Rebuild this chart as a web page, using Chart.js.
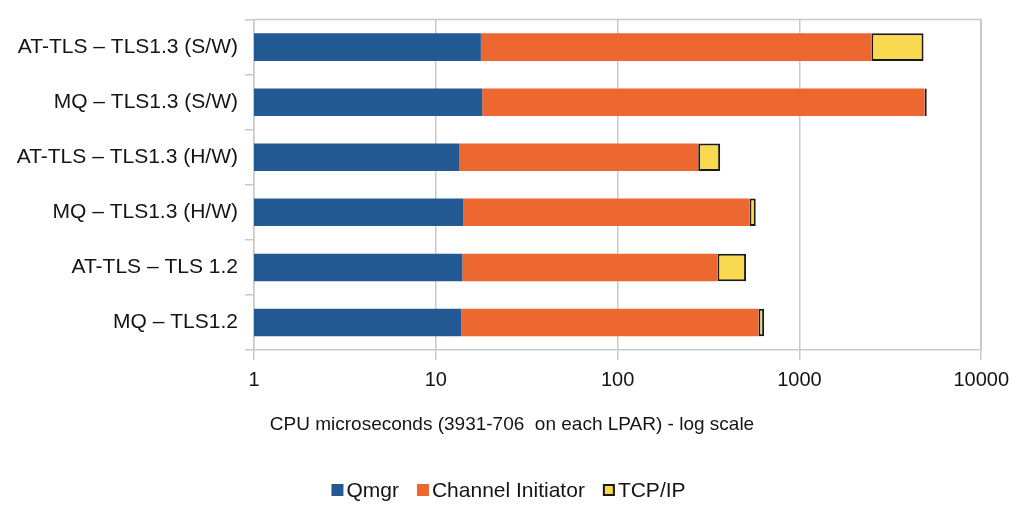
<!DOCTYPE html>
<html>
<head>
<meta charset="utf-8">
<script src="https://cdn.jsdelivr.net/npm/chart.js@4.4.1/dist/chart.umd.min.js"></script>
<style>
  html, body { margin: 0; padding: 0; background: #ffffff; }
  #wrap { width: 1017px; height: 506px; position: relative; }
</style>
</head>
<body>
<div id="wrap"><canvas id="c" width="1017" height="506"></canvas></div>
<script>
const categories = [
  'AT-TLS – TLS1.3 (S/W)',
  'MQ – TLS1.3 (S/W)',
  'AT-TLS – TLS1.3 (H/W)',
  'MQ – TLS1.3 (H/W)',
  'AT-TLS – TLS 1.2',
  'MQ – TLS1.2'
];
const seriesNames = ['Qmgr', 'Channel Initiator', 'TCP/IP'];
const qmgr = [17.7, 18, 13.5, 14.2, 14, 13.8];
const channelInitiator = [2470, 4860, 264, 517, 340, 581];
const tcpip = [2330, 140, 89, 44, 155, 45];
const xTickValues = [1, 10, 100, 1000, 10000];
const xTickLabels = ['1', '10', '100', '1000', '10000'];
const xTitle = 'CPU microseconds (3931-706  on each LPAR) - log scale';

const FONT = "'Liberation Sans', Arial, Helvetica, sans-serif";
const GRID = '#c9c9c9';
const TEXT = '#141414';
const colors = ['#245a93', '#ed6731', '#f8d94f'];

const frame = {
  id: 'frame',
  beforeDatasetsDraw(chart) {
    const {ctx, chartArea: a} = chart;
    ctx.save();
    ctx.strokeStyle = GRID;
    ctx.lineWidth = 1.5;
    ctx.beginPath();
    ctx.moveTo(a.left, a.top);
    ctx.lineTo(a.right, a.top);
    ctx.lineTo(a.right, a.bottom);
    ctx.stroke();
    ctx.restore();
  }
};

const extras = {
  id: 'extras',
  afterDraw(chart) {
    const {ctx} = chart;
    ctx.save();
    // axis title
    ctx.fillStyle = TEXT;
    ctx.font = '19px ' + FONT;
    ctx.textAlign = 'center';
    ctx.textBaseline = 'middle';
    ctx.fillText(xTitle, 512, 425);
    // legend
    ctx.font = '21px ' + FONT;
    const box = 12, gapText = 3, gapItem = 18;
    const ds = chart.data.datasets;
    const widths = ds.map(d => box + gapText + ctx.measureText(d.label).width);
    const total = widths.reduce((s, w) => s + w, 0) + gapItem * (ds.length - 1);
    let x = chart.width / 2 - total / 2;
    const y = 490;
    ctx.textAlign = 'left';
    ds.forEach((d, i) => {
      ctx.fillStyle = d.backgroundColor;
      ctx.fillRect(x, y - box / 2, box, box);
      if (d.borderWidth) {
        ctx.strokeStyle = d.borderColor;
        ctx.lineWidth = 2;
        ctx.strokeRect(x + 1, y - box / 2 + 1, box - 2, box - 2);
      }
      ctx.fillStyle = TEXT;
      ctx.fillText(d.label, x + box + gapText, y + 1);
      x += widths[i] + gapItem;
    });
    ctx.restore();
  }
};

new Chart(document.getElementById('c'), {
  type: 'bar',
  data: {
    labels: categories,
    datasets: [
      { label: seriesNames[0], data: qmgr, backgroundColor: colors[0], borderWidth: 0 },
      { label: seriesNames[1], data: channelInitiator, backgroundColor: colors[1], borderWidth: 0 },
      { label: seriesNames[2], data: tcpip, backgroundColor: colors[2], borderColor: '#1a1a1a', borderWidth: 2, borderSkipped: false }
    ]
  },
  options: {
    indexAxis: 'y',
    responsive: false,
    animation: false,
    devicePixelRatio: 1,
    layout: { padding: { top: 10, right: 35, bottom: 0, left: 0 } },
    datasets: { bar: { barPercentage: 0.5, categoryPercentage: 1.0 } },
    plugins: { legend: { display: false }, tooltip: { enabled: false }, title: { display: false } },
    scales: {
      x: {
        type: 'logarithmic',
        position: 'bottom',
        stacked: true,
        min: 1,
        max: 10000,
        afterBuildTicks(scale) { scale.ticks = xTickValues.map(v => ({ value: v })); },
        afterFit(scale) { scale.height = 156; },
        grid: { color: GRID, lineWidth: 1.5, drawTicks: true, tickLength: 10, tickColor: GRID },
        border: { color: GRID, width: 1.5 },
        ticks: {
          autoSkip: false,
          maxRotation: 0,
          padding: 8,
          color: TEXT,
          font: { family: FONT, size: 20 },
          callback(value) {
            const i = xTickValues.indexOf(value);
            return i >= 0 ? xTickLabels[i] : '';
          }
        }
      },
      y: {
        type: 'category',
        stacked: true,
        afterFit(scale) { scale.width = 254; },
        grid: { offset: true, drawOnChartArea: false, drawTicks: true, tickLength: 9, color: GRID, lineWidth: 1.5 },
        border: { color: GRID, width: 1.5 },
        ticks: { padding: 7, color: TEXT, font: { family: FONT, size: 21 }, autoSkip: false }
      }
    }
  },
  plugins: [frame, extras]
});
</script>
</body>
</html>
